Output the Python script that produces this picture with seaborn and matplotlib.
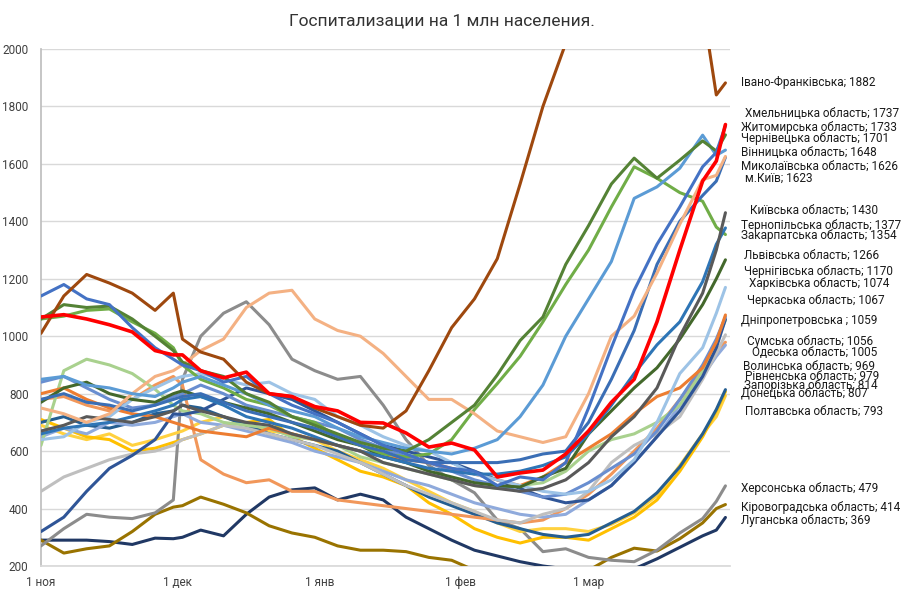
import numpy as np
import pandas as pd
import matplotlib
matplotlib.use("Agg")
import matplotlib.pyplot as plt
import matplotlib.transforms as mtransforms
import seaborn as sns

# ---------------- data ----------------
start_date = "2020-11-01"
days = [0, 5, 10, 15, 20, 25, 29, 31, 35, 40, 45, 50, 55, 60, 65, 70, 75, 80, 85,
        90, 95, 100, 105, 110, 115, 120, 125, 130, 135, 140, 145, 148, 150]

ivano = [1010, 1140, 1215, 1185, 1150, 1090, 1150, 990, 945, 920, 840, 800, 790, 750, 720, 690, 680, 740, 880,
         1030, 1130, 1270, 1530, 1800, 2020, 2250, 2450, 2600, 2650, 2500, 2150, 1840, 1882]
khmel = [1067, 1075, 1060, 1040, 1015, 950, 935, 935, 880, 855, 875, 800, 790, 755, 740, 700, 698, 663, 614,
         628, 604, 510, 524, 534, 590, 670, 770, 850, 1050, 1300, 1540, 1610, 1737]
zhyt = [1140, 1180, 1130, 1110, 1030, 960, 920, 900, 880, 840, 860, 800, 760, 730, 700, 660, 620, 590, 560,
        540, 530, 480, 510, 500, 560, 750, 960, 1160, 1320, 1450, 1590, 1640, 1733]
chernivtsi = [1060, 1110, 1100, 1105, 1060, 1000, 950, 910, 880, 860, 800, 770, 720, 690, 660, 630, 610, 600, 640,
              700, 760, 865, 985, 1067, 1250, 1385, 1530, 1620, 1550, 1613, 1680, 1645, 1701]
vinn = [850, 860, 830, 820, 800, 790, 820, 840, 860, 830, 800, 760, 740, 720, 680, 650, 630, 610, 600,
        590, 610, 640, 720, 830, 1000, 1130, 1260, 1480, 1520, 1585, 1700, 1630, 1648]
mykol = [750, 730, 700, 730, 800, 860, 880, 900, 950, 990, 1100, 1150, 1160, 1060, 1020, 1000, 940, 860, 780,
         780, 730, 670, 650, 630, 650, 800, 1000, 1070, 1220, 1390, 1545, 1560, 1626]
kyiv_city = [780, 800, 770, 760, 740, 760, 780, 790, 800, 770, 740, 720, 700, 680, 650, 620, 600, 570, 560,
             560, 560, 560, 570, 590, 600, 700, 850, 1020, 1250, 1400, 1490, 1540, 1623]
kyivska = [670, 690, 720, 710, 700, 720, 740, 760, 740, 720, 700, 690, 660, 640, 620, 600, 560, 540, 520,
           500, 480, 470, 460, 470, 500, 560, 650, 720, 820, 1000, 1150, 1300, 1430]
ternop = [660, 680, 690, 700, 720, 740, 760, 780, 790, 760, 720, 700, 680, 650, 620, 600, 580, 560, 540,
          530, 520, 520, 530, 550, 580, 660, 760, 870, 970, 1050, 1190, 1320, 1377]
zakarp = [1060, 1070, 1090, 1095, 1050, 1010, 960, 900, 850, 820, 780, 760, 720, 700, 650, 620, 590, 580, 590,
          640, 745, 835, 930, 1050, 1180, 1300, 1450, 1590, 1550, 1500, 1470, 1380, 1354]
lviv = [770, 820, 840, 800, 780, 770, 800, 810, 790, 770, 750, 730, 700, 670, 640, 620, 580, 560, 530,
        510, 490, 480, 475, 510, 540, 660, 740, 820, 890, 990, 1110, 1200, 1266]
cherni = [640, 650, 700, 720, 780, 820, 850, 860, 870, 850, 830, 840, 800, 780, 720, 690, 650, 620, 600,
          560, 520, 500, 480, 460, 450, 460, 500, 570, 700, 870, 960, 1080, 1170]
kharkiv = [800, 820, 780, 750, 730, 720, 700, 690, 670, 660, 650, 680, 660, 640, 620, 600, 580, 570, 560,
           540, 520, 500, 480, 510, 560, 610, 660, 730, 790, 820, 890, 980, 1074]
cherkasy = [840, 860, 820, 780, 750, 760, 790, 800, 830, 800, 760, 740, 720, 700, 680, 640, 610, 580, 560,
            530, 500, 480, 460, 440, 450, 490, 540, 590, 670, 780, 900, 990, 1067]
dnipro = [320, 370, 460, 540, 585, 640, 730, 727, 740, 780, 820, 800, 780, 740, 700, 660, 620, 600, 580,
          560, 530, 500, 470, 440, 420, 430, 480, 560, 650, 740, 860, 960, 1059]
sumy = [620, 880, 920, 900, 870, 815, 760, 740, 730, 700, 690, 680, 650, 640, 620, 580, 560, 540, 520,
        500, 480, 470, 480, 490, 530, 600, 640, 660, 700, 760, 880, 980, 1056]
odesa = [460, 510, 540, 570, 590, 600, 620, 640, 660, 690, 680, 660, 640, 620, 590, 560, 520, 480, 450,
         420, 390, 360, 350, 380, 400, 460, 560, 620, 660, 720, 850, 940, 1005]
volyn = [650, 680, 660, 700, 690, 700, 720, 730, 700, 690, 670, 650, 630, 600, 580, 560, 530, 500, 480,
         450, 420, 400, 380, 370, 380, 430, 480, 560, 650, 760, 860, 930, 969]
rivne = [780, 790, 760, 740, 780, 830, 860, 830, 570, 520, 490, 500, 460, 460, 430, 420, 410, 400, 390,
         380, 370, 360, 350, 360, 400, 450, 520, 600, 680, 780, 880, 950, 979]
zapor = [700, 720, 690, 680, 700, 730, 740, 760, 750, 720, 690, 660, 640, 620, 600, 560, 520, 480, 440,
         410, 380, 350, 330, 310, 300, 310, 350, 390, 455, 545, 660, 745, 814]
donetsk = [710, 680, 650, 640, 600, 610, 630, 640, 660, 690, 700, 710, 650, 610, 570, 530, 510, 480, 420,
           380, 330, 300, 280, 300, 300, 290, 330, 370, 430, 530, 650, 740, 807]
poltava = [690, 660, 640, 660, 620, 640, 660, 670, 700, 720, 690, 670, 660, 640, 600, 570, 540, 500, 460,
           420, 390, 350, 320, 330, 330, 320, 345, 385, 445, 550, 660, 720, 793]
kherson = [270, 330, 380, 370, 365, 385, 430, 850, 1000, 1080, 1120, 1040, 920, 880, 850, 860, 760, 640, 550,
           500, 455, 360, 330, 250, 260, 230, 220, 215, 255, 315, 365, 425, 479]
kirovo = [290, 245, 260, 270, 320, 380, 405, 410, 440, 415, 385, 340, 315, 300, 270, 255, 255, 250, 230,
          220, 185, 175, 170, 165, 170, 185, 230, 262, 252, 295, 350, 400, 414]
luhansk = [290, 290, 290, 285, 275, 297, 295, 300, 325, 305, 380, 440, 465, 472, 430, 450, 430, 370, 330,
           290, 255, 235, 215, 200, 190, 185, 180, 190, 225, 265, 305, 325, 369]

region_names = ["Івано-Франківська", "Хмельницька область", "Житомирська область", "Чернівецька область",
                "Вінницька область", "Миколаївська область", "м.Київ", "Київська область",
                "Тернопільська область", "Закарпатська область", "Львівська область", "Чернігівська область",
                "Харківська область", "Черкаська область", "Дніпропетровська ", "Сумська область",
                "Одеська область", "Волинська область", "Рівненська область", "Запорізька область",
                "Донецька область", "Полтавська область", "Херсонська область", "Кіровоградська область",
                "Луганська область"]
region_values = [ivano, khmel, zhyt, chernivtsi, vinn, mykol, kyiv_city, kyivska, ternop, zakarp, lviv,
                 cherni, kharkiv, cherkasy, dnipro, sumy, odesa, volyn, rivne, zapor, donetsk, poltava,
                 kherson, kirovo, luhansk]

month_ticks = ["2020-11-01", "2020-12-01", "2021-01-01", "2021-02-01", "2021-03-01"]
month_labels = ["1 ноя", "1 дек", "1 янв", "1 фев", "1 мар"]
title = "Госпитализации на 1 млн населения."

# ---------------- styles / layout ----------------
colors = ["#9E480E", "#FF0000", "#4472C4", "#548235", "#5B9BD5", "#F4B183", "#3A6EB5", "#595959",
          "#2E75B6", "#70AD47", "#43682B", "#9DC3E6", "#ED7D31", "#698ED0", "#2F5597", "#A9D18E",
          "#BFBFBF", "#8FAADC", "#F1975A", "#255E91", "#FFC000", "#FFD13F", "#8C8C8C", "#997300",
          "#203864"]
# label positions (data y) and left offsets (pixels from the right edge of the plot)
label_y = [1882, 1777, 1728, 1687, 1641, 1593, 1551, 1439, 1387, 1349, 1282, 1227, 1185, 1126, 1053,
           980, 945, 896, 861, 830, 802, 740, 471, 405, 360]
label_dx = [11, 15, 11, 11, 11, 11, 15, 20, 11, 11, 14, 14, 19, 17, 11, 17, 22, 13, 15, 14, 11, 15, 11, 11, 11]

sns.set_theme(style="white")
plt.rcParams['font.family'] = ['Roboto', 'DejaVu Sans']

W, H = 918, 600
fig = plt.figure(figsize=(W / 100, H / 100), dpi=100)
ax = fig.add_axes([41 / W, 1 - 566 / H, (730 - 41) / W, (566 - 49) / H])

dates = pd.to_datetime(start_date) + pd.to_timedelta(days, unit="D")

frames = []
for name, vals in zip(region_names, region_values):
    frames.append(pd.DataFrame({"date": dates, "value": vals, "region": name}))
df = pd.concat(frames, ignore_index=True)

color_map = dict(zip(region_names, colors))
# draw order: highlighted red and brown lines on top
order = [n for n in region_names[::-1] if n not in ("Хмельницька область", "Івано-Франківська")]
order += ["Івано-Франківська", "Хмельницька область"]
for i, name in enumerate(order):
    sub = df[df["region"] == name]
    lw = 2.6 if name == "Хмельницька область" else 2.2
    sns.lineplot(data=sub, x="date", y="value", color=color_map[name], linewidth=lw,
                 ax=ax, legend=False, zorder=3 + i, estimator=None, sort=False)

ax.set_ylim(200, 2000)
ax.set_xlim(pd.Timestamp("2020-11-01"), pd.Timestamp("2021-04-01"))
ax.set_yticks(range(200, 2001, 200))
ax.set_xticks(pd.to_datetime(month_ticks))
ax.set_xticklabels(month_labels)
ax.set_xlabel("")
ax.set_ylabel("")
ax.yaxis.grid(True, color="#D9D9D9", linewidth=1.0)
ax.xaxis.grid(False)
ax.set_axisbelow(True)
for s in ["top", "right"]:
    ax.spines[s].set_visible(False)
ax.spines["left"].set_color("#BFBFBF")
ax.spines["bottom"].set_color("#D9D9D9")
ax.tick_params(axis="both", length=0, labelsize=8.5, colors="#404040")
ax.tick_params(axis="y", pad=9)
ax.tick_params(axis="x", pad=7)

trans = mtransforms.blended_transform_factory(ax.transAxes, ax.transData)
for name, vals, ly, dx in zip(region_names, region_values, label_y, label_dx):
    ax.annotate(f"{name}; {vals[-1]}", xy=(1.0, ly), xycoords=trans, xytext=(dx, 0),
                textcoords="offset pixels", ha="left", va="center", fontsize=8.5,
                color="#1a1a1a", annotation_clip=False)

fig.text(442 / W, 1 - 21 / H, title, ha="center", va="center", fontsize=12.5, color="#333333")

fig.savefig("out.png", dpi=100, facecolor="white")
